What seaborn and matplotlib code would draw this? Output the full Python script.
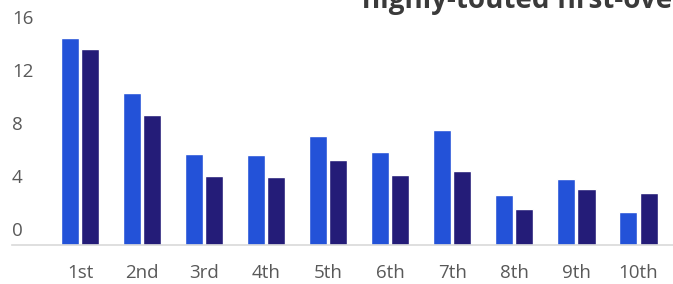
import matplotlib
matplotlib.use("Agg")
import matplotlib.pyplot as plt
import seaborn as sns
import pandas as pd

categories = ["1st", "2nd", "3rd", "4th", "5th", "6th", "7th", "8th", "9th", "10th"]
series_names = ["Series A", "Series B"]
series_a = [15.6, 11.5, 6.9, 6.8, 8.2, 7.0, 8.7, 3.8, 5.0, 2.5]
series_b = [14.8, 9.8, 5.2, 5.1, 6.4, 5.3, 5.6, 2.7, 4.2, 3.9]
y_ticks = [0, 4, 8, 12, 16]
title_text = "highly-touted first-overs"

df = pd.DataFrame({
    "pick": categories * 2,
    "value": series_a + series_b,
    "series": [series_names[0]] * len(categories) + [series_names[1]] * len(categories),
})

sns.set_theme(style="white")
plt.rcParams["font.family"] = ["Open Sans", "DejaVu Sans"]

W, H = 673, 284
fig = plt.figure(figsize=(W / 100, H / 100), dpi=100)
ax = fig.add_axes([12 / W, 39 / H, 1 - 12 / W, 1 - 39 / H])

sns.barplot(data=df, x="pick", y="value", hue="series", order=categories,
            hue_order=series_names, palette=["#2352d8", "#241c78"],
            width=0.66, gap=0.12, saturation=1, legend=False, ax=ax)

ax.set_xlim(-1.1, 9.56)
ax.set_ylim(0, 18.5)
for s in ["top", "right", "left"]:
    ax.spines[s].set_visible(False)
ax.spines["bottom"].set_color("#d9d9d9")
ax.spines["bottom"].set_linewidth(1.2)
ax.set_xlabel("")
ax.set_ylabel("")
ax.set_yticks([])
ax.tick_params(axis="x", length=0, pad=14, labelsize=13.5, labelcolor="#595959")

for v in y_ticks:
    ax.annotate(str(v), xy=(0, v), xycoords=("axes fraction", "data"),
                xytext=(0, 10), textcoords="offset points",
                ha="left", va="center", fontsize=13.5, color="#595959")

fig.text(362 / W, (H - 8) / H, title_text, ha="left", va="baseline",
         fontsize=20, fontweight="bold", color="#3a3a3a")

fig.savefig("out.png", dpi=100)
